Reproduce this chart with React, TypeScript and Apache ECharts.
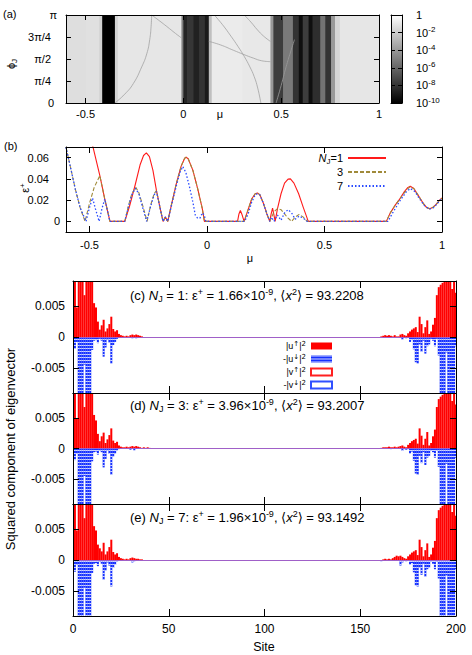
import React, { useEffect, useRef } from 'react';
import * as echarts from 'echarts';

const FONT = '"Liberation Sans", Arial, Helvetica, "DejaVu Sans", sans-serif';

// ---------- Panel (a) ----------
const MU_TICKS = [-0.5, 0, 0.5, 1];
const PHI_TICKS = [0, 0.25, 0.5, 0.75, 1];
const PHI_LABELS = ['0', 'π/4', 'π/2', '3π/4', 'π'];
const CB_TICKS = [-10, -8, -6, -4, -2, 0];
const CB_INNER_TICKS = [-8, -6, -4, -2];
const CB_BAR = [-10];
// band edges in mu and log10 of the plotted quantity inside each band
const BAND_EDGES = [-0.6, -0.5, -0.43, -0.415, -0.35, -0.335, -0.01, 0.0, 0.02, 0.05, 0.08, 0.11, 0.13, 0.145, 0.3, 0.445, 0.46, 0.51, 0.56, 0.59, 0.61, 0.64, 0.66, 0.7, 0.725, 0.755, 0.775, 0.8, 1.0];
const BAND_LOG10 = [-1.3, -1.2, -1.8, -10, -1.7, -1.0, -5, -8.6, -7.9, -8.7, -8.0, -9.0, -2.5, -0.8, -0.9, -4, -7.6, -5.2, -8.0, -9.4, -7.6, -9.4, -8.2, -5.5, -8.0, -4.0, -1.6, -1.0];
// thin curves in panel (a): [mu, phi/pi]
const CURVE_A = [[-0.35, 0.0], [-0.3, 0.1], [-0.256, 0.22], [-0.213, 0.41], [-0.187, 0.56], [-0.172, 0.72], [-0.165, 0.87], [-0.162, 1.0]];
const CURVE_B1 = [[-0.162, 1.0], [-0.12, 0.93], [-0.085, 0.87], [-0.04, 0.79], [-0.01, 0.74]];
const CURVE_B2 = [[0.13, 0.7], [0.19, 0.66], [0.255, 0.6], [0.31, 0.55], [0.358, 0.51], [0.4, 0.48], [0.445, 0.47]];
const CURVE_C = [[0.158, 1.0], [0.2, 0.89], [0.243, 0.76], [0.28, 0.64], [0.311, 0.53], [0.34, 0.41], [0.362, 0.3], [0.38, 0.17], [0.396, 0.0]];
const CURVE_D = [[0.311, 1.0], [0.345, 0.92], [0.379, 0.83], [0.41, 0.76], [0.445, 0.7]];
const CURVE_E = [[0.474, 0.0], [0.5, 0.2], [0.525, 0.41], [0.548, 0.58], [0.568, 0.72]];

// ---------- Panel (b) ----------
const EPS_TICKS = [0, 0.02, 0.04, 0.06];
const MU_N1 = [-0.5, -0.484, -0.456, -0.435, -0.413, -0.35, -0.33, -0.306, -0.285, -0.27, -0.258, -0.245, -0.23, -0.215, -0.2, -0.187, -0.177, -0.167, -0.15, -0.13, -0.11, -0.095, -0.089, -0.08, -0.06, -0.04, -0.02, -0.011, 0.13, 0.136, 0.142, 0.148, 0.158, 0.175, 0.19, 0.205, 0.215, 0.225, 0.24, 0.255, 0.267, 0.273, 0.279, 0.284, 0.29, 0.3, 0.315, 0.33, 0.345, 0.355, 0.37, 0.39, 0.41, 0.431, 0.763, 0.78, 0.8, 0.82, 0.84, 0.855, 0.865, 0.88, 0.9, 0.92, 0.935, 0.947, 0.96, 0.975, 0.99, 1.0];
const EPS_N1 = [0.082, 0.069, 0.043, 0.021, 0, 0, 0.014, 0.034, 0.053, 0.062, 0.0644, 0.061, 0.048, 0.029, 0.013, 0, 0.004, 0, 0.017, 0.036, 0.052, 0.0595, 0.0603, 0.059, 0.048, 0.031, 0.012, 0, 0, 0.007, 0.0103, 0.007, 0, 0.011, 0.021, 0.026, 0.0268, 0.025, 0.017, 0.007, 0, 0.007, 0.0125, 0.007, 0, 0.012, 0.026, 0.036, 0.0398, 0.04, 0.036, 0.026, 0.013, 0, 0, 0.008, 0.015, 0.021, 0.028, 0.032, 0.0331, 0.031, 0.024, 0.017, 0.013, 0.0119, 0.013, 0.016, 0.02, 0.022];
const MU_N3 = [-0.6, -0.58, -0.56, -0.54, -0.519, -0.5, -0.48, -0.456, -0.435, -0.413, -0.35, -0.335, -0.32, -0.303, -0.29, -0.275, -0.255, -0.24, -0.225, -0.215, -0.2, -0.187, -0.177, -0.167, -0.15, -0.13, -0.11, -0.095, -0.089, -0.08, -0.06, -0.04, -0.02, -0.011, 0.158, 0.175, 0.19, 0.205, 0.215, 0.225, 0.24, 0.255, 0.267, 0.285, 0.3, 0.315, 0.33, 0.345, 0.36, 0.375, 0.392, 0.41, 0.427, 0.763, 0.78, 0.8, 0.82, 0.84, 0.855, 0.865, 0.88, 0.9, 0.92, 0.935, 0.947, 0.96, 0.975, 0.99, 1.0];
const EPS_N3 = [0.0697, 0.05, 0.03, 0.013, 0, 0.017, 0.032, 0.043, 0.021, 0, 0, 0.014, 0.026, 0.0322, 0.027, 0.016, 0, 0.015, 0.026, 0.029, 0.013, 0, 0.004, 0, 0.017, 0.036, 0.052, 0.0595, 0.0603, 0.059, 0.048, 0.031, 0.012, 0, 0, 0.011, 0.021, 0.026, 0.0268, 0.025, 0.017, 0.007, 0, 0.009, 0.012, 0.011, 0.007, 0.003, 0, 0.004, 0.0066, 0.004, 0, 0, 0.008, 0.015, 0.021, 0.027, 0.031, 0.0325, 0.031, 0.024, 0.017, 0.013, 0.012, 0.013, 0.016, 0.02, 0.0215];
const MU_N7 = [-0.6, -0.58, -0.56, -0.54, -0.515, -0.5, -0.487, -0.475, -0.459, -0.447, -0.435, -0.413, -0.35, -0.335, -0.32, -0.305, -0.29, -0.275, -0.257, -0.24, -0.225, -0.215, -0.2, -0.187, -0.177, -0.167, -0.15, -0.13, -0.115, -0.103, -0.09, -0.075, -0.06, -0.05, -0.04, -0.03, -0.02, -0.012, -0.005, 0.16, 0.175, 0.19, 0.205, 0.215, 0.225, 0.24, 0.255, 0.267, 0.275, 0.285, 0.3, 0.315, 0.33, 0.345, 0.36, 0.375, 0.392, 0.41, 0.427, 0.77, 0.79, 0.82, 0.845, 0.865, 0.885, 0.905, 0.925, 0.945, 0.965, 0.985, 1.0];
const EPS_N7 = [0.0697, 0.05, 0.03, 0.013, 0, 0.013, 0.022, 0.012, 0, 0.012, 0.021, 0, 0, 0.013, 0.025, 0.031, 0.026, 0.014, 0, 0.014, 0.025, 0.028, 0.013, 0, 0.004, 0, 0.016, 0.034, 0.046, 0.0516, 0.046, 0.033, 0.018, 0.006, 0.003, 0.003, 0.008, 0.006, 0, 0, 0.007, 0.018, 0.025, 0.026, 0.025, 0.017, 0.007, 0, 0.004, 0, 0.006, 0.001, 0.008, 0.011, 0.008, 0.002, 0.005, 0.003, 0, 0, 0.008, 0.019, 0.027, 0.031, 0.028, 0.021, 0.015, 0.0115, 0.013, 0.018, 0.022];

// ---------- Panels (c)-(e) ----------
const SITE_TICKS = [0, 50, 100, 150, 200];
const COMP_TICKS = [-0.005, 0, 0.005];
const SITES = Array.from({ length: 200 }, (_, i) => i + 1);
const MIDDLE = new Array(120).fill(0); // sites 41..160 are ~0 in the figure

const UP_C_L = [0.012, 0.0048, 0.0095, 0.012, 0.011, 0.0068, 0.012, 0.014, 0.012, 0.012, 0.0055, 0.0048, 0.0025, 0.0012, 0.0019, 0.0028, 0.0009, 0.0014, 0.0021, 0.0033, 0.0013, 0.0009, 0.0011, 0.0005, 0.0003, 0.0002, 0.0001, 0.0002, 0.0001, 0.0003, 0.0004, 0.0003, 0.0004, 0.0003, 0.0002, 0.0001, 0, 0, 0, 0];
const DN_C_L = [-0.0019, -0.0008, -0.012, -0.012, -0.012, -0.0045, -0.012, -0.012, -0.012, -0.0021, -0.0006, -0.0005, -0.001, -0.0003, -0.0006, -0.0032, -0.0017, -0.0004, -0.0009, -0.0043, -0.0013, -0.0008, -0.0003, -0.0001, 0, 0, 0, 0, 0, 0, -0.0002, 0, -0.0002, 0, 0, 0, 0, 0, 0, 0];
const UP_C_R = [0.0001, 0.0002, 0.0003, 0.0002, 0.0003, 0.0002, 0.0001, 0.0003, 0.0001, 0.0001, 0.0004, 0.0005, 0.0003, 0.0002, 0.0006, 0.0009, 0.0012, 0.0014, 0.0016, 0.0008, 0.0033, 0.0021, 0.0006, 0.0016, 0.0027, 0.0005, 0.0009, 0.002, 0.0031, 0.0068, 0.0081, 0.0085, 0.0088, 0.012, 0.012, 0.012, 0.012, 0.0078, 0.012, 0.0072];
const DN_C_R = [0, 0, 0, 0, 0, -0.0001, 0, 0, 0, 0, 0, -0.0004, -0.0001, -0.0002, -0.0001, -0.0008, -0.0005, -0.002, -0.0041, -0.0043, -0.0012, -0.0024, -0.0006, -0.0027, -0.0015, -0.0012, -0.0003, -0.0006, -0.0015, -0.0003, -0.003, -0.012, -0.012, -0.012, -0.0025, -0.012, -0.012, -0.012, -0.012, -0.0015];

const UP_D_L = [0.012, 0.005, 0.0095, 0.012, 0.011, 0.0068, 0.012, 0.014, 0.012, 0.012, 0.0055, 0.0046, 0.0024, 0.0012, 0.002, 0.0026, 0.0009, 0.0015, 0.0022, 0.0033, 0.0013, 0.0009, 0.0011, 0.0005, 0.0003, 0.0002, 0.0002, 0.0003, 0.0002, 0.0003, 0.0004, 0.0003, 0.0004, 0.0003, 0.0002, 0.0001, 0.0002, 0.0001, 0.0002, 0.0001];
const DN_D_L = [-0.0019, -0.0008, -0.012, -0.012, -0.012, -0.0045, -0.012, -0.012, -0.012, -0.0021, -0.0006, -0.0005, -0.001, -0.0003, -0.0006, -0.0031, -0.0017, -0.0004, -0.0009, -0.0043, -0.0013, -0.0008, -0.0003, -0.0001, 0, 0, 0, 0, 0, -0.0002, 0, -0.0003, 0, 0, 0, 0, 0, 0, 0, 0];
const UP_D_R = [0.0001, 0.0002, 0.0002, 0.0002, 0.0003, 0.0002, 0.0002, 0.0003, 0.0002, 0.0003, 0.0004, 0.0005, 0.0003, 0.0002, 0.0006, 0.0009, 0.0012, 0.0014, 0.0016, 0.0008, 0.0033, 0.0021, 0.0006, 0.0016, 0.0027, 0.0005, 0.0009, 0.002, 0.0031, 0.0068, 0.0081, 0.0085, 0.0088, 0.012, 0.012, 0.012, 0.012, 0.0078, 0.012, 0.0072];
const DN_D_R = [0, 0, 0, 0, 0, -0.0001, 0, 0, 0, 0, 0, -0.0004, -0.0001, -0.0002, -0.0001, -0.0008, -0.0005, -0.002, -0.0041, -0.0043, -0.0012, -0.0024, -0.0006, -0.0027, -0.0015, -0.0012, -0.0003, -0.0006, -0.0015, -0.0003, -0.003, -0.012, -0.012, -0.012, -0.0025, -0.012, -0.012, -0.012, -0.012, -0.0015];

const UP_E_L = [0.012, 0.0048, 0.0095, 0.012, 0.011, 0.0068, 0.012, 0.014, 0.012, 0.012, 0.0055, 0.0048, 0.0025, 0.0019, 0.0014, 0.0028, 0.0009, 0.0014, 0.0021, 0.0033, 0.0013, 0.0009, 0.0011, 0.0005, 0.0003, 0.0002, 0.0001, 0.0002, 0.0001, 0.0003, 0.0004, 0.0003, 0.0002, 0.0002, 0.0001, 0.0001, 0, 0, 0, 0];
const DN_E_L = [-0.0019, -0.0008, -0.012, -0.012, -0.012, -0.0045, -0.012, -0.012, -0.012, -0.0021, -0.0006, -0.0005, -0.001, -0.0003, -0.0006, -0.0032, -0.0017, -0.0004, -0.0009, -0.0043, -0.0013, -0.0008, -0.0003, -0.0001, 0, 0, 0, 0, 0, 0, -0.0004, -0.0002, -0.0001, 0, 0, 0, 0, 0, 0, 0];
const UP_E_R = [0, 0.0001, 0.0002, 0.0001, 0.0002, 0.0001, 0.0003, 0.0005, 0.0007, 0.0006, 0.0007, 0.0005, 0.0003, 0.0002, 0.0006, 0.0009, 0.0012, 0.0014, 0.0016, 0.0008, 0.0033, 0.0021, 0.0006, 0.0016, 0.0027, 0.0005, 0.0009, 0.002, 0.0031, 0.0068, 0.0081, 0.0085, 0.0088, 0.012, 0.012, 0.012, 0.012, 0.0078, 0.012, 0.0072];
const DN_E_R = [-0.0002, 0, 0, 0, 0, 0, 0, 0, 0, 0, -0.0009, -0.0004, -0.0001, -0.0002, -0.0001, -0.0008, -0.0005, -0.002, -0.0041, -0.0043, -0.0012, -0.0024, -0.0006, -0.0027, -0.0015, -0.0012, -0.0003, -0.0006, -0.0015, -0.0003, -0.003, -0.012, -0.012, -0.012, -0.0025, -0.012, -0.012, -0.012, -0.012, -0.0015];

const PANEL_TAGS = ['(c)', '(d)', '(e)'];
const PANEL_NJ = ['1', '3', '7'];
const PANEL_EPS = ['1.66', '3.96', '1.96'];
const PANEL_X2 = ['93.2208', '93.2007', '93.1492'];

function buildOption() {
  const BLACK = '#000';
  const off = { show: false };
  const axLine = { show: true, onZero: false, lineStyle: { color: BLACK, width: 1 } };
  const tick = (vals: number[], len: number) => ({ show: true, inside: true, length: len, customValues: vals, lineStyle: { color: BLACK, width: 1 } });
  const valAxis = (gi: number, min: number, max: number, pos: string, ticks: number[], len: number, label?: any) => ({
    type: 'value', gridIndex: gi, min, max, position: pos,
    axisLine: axLine, axisTick: tick(ticks, len), axisLabel: label || off, splitLine: off, z: 10,
  });
  const catAxis = (gi: number, pos: string) => ({
    type: 'category', gridIndex: gi, data: ['cb'], position: pos,
    axisLine: axLine, axisTick: off, axisLabel: off, splitLine: off, z: 10,
  });
  const lbl = (vals: number[], size: number, margin: number, extra?: any) => ({
    show: true, customValues: vals, fontSize: size, fontFamily: FONT, color: BLACK, margin, ...(extra || {}),
  });

  const grid = [
    { left: 66, top: 15, width: 313, height: 88 },
    { left: 391, top: 15, width: 11, height: 88 },
    { left: 66, top: 147, width: 376, height: 85 },
    { left: 73, top: 281, width: 383, height: 112 },
    { left: 73, top: 393, width: 383, height: 111 },
    { left: 73, top: 504, width: 383, height: 112 },
  ].map((g) => ({ ...g, outerBoundsMode: 'none', containLabel: false }));

  const xAxis = [
    valAxis(0, -0.6, 1, 'bottom', MU_TICKS, 5, lbl(MU_TICKS, 11, 5, { formatter: (v: number) => String(v) })),
    valAxis(0, -0.6, 1, 'top', MU_TICKS, 5),
    catAxis(1, 'bottom'),
    catAxis(1, 'top'),
    valAxis(2, -0.6, 1, 'bottom', MU_TICKS, 6, lbl(MU_TICKS, 11, 7, { formatter: (v: number) => String(v) })),
    valAxis(2, -0.6, 1, 'top', MU_TICKS, 6),
    valAxis(3, 0, 200, 'bottom', SITE_TICKS, 7),
    valAxis(3, 0, 200, 'top', SITE_TICKS, 7),
    valAxis(4, 0, 200, 'bottom', SITE_TICKS, 7),
    valAxis(4, 0, 200, 'top', SITE_TICKS, 7),
    valAxis(5, 0, 200, 'bottom', SITE_TICKS, 7, lbl(SITE_TICKS, 12, 7, { formatter: (v: number) => String(v) })),
    valAxis(5, 0, 200, 'top', SITE_TICKS, 7),
  ];

  const phiLabel = lbl(PHI_TICKS, 11, 9, {
    formatter: (v: number) => {
      const t = PHI_LABELS[PHI_TICKS.indexOf(v)];
      const k = t === 'π' ? 'p0' : t === '0' ? 'p3' : 'p6';
      return `{${k}|${t}}`;
    },
    rich: { p0: { padding: [0, 0, 0, 0] }, p3: { padding: [0, 3, 0, 0] }, p6: { padding: [0, 6, 0, 0] } },
  });
  const cbLabel = lbl(CB_TICKS, 11, 14, {
    formatter: (v: number) => (v === 0 ? '{n|1}' : `{n|10}{s|${v}}`),
    rich: { n: { fontSize: 11, lineHeight: 14 }, s: { fontSize: 8, lineHeight: 8, verticalAlign: 'top' } },
  });
  const epsLabel = lbl(EPS_TICKS, 11, 6, {
    formatter: (v: number) => (v === 0 ? '{z|0}' : `{w|${v}}`),
    rich: { z: { padding: [0, 0, 0, 0] }, w: { padding: [0, 11, 0, 0] } },
  });
  const compLabel = lbl(COMP_TICKS, 12, 8, { formatter: (v: number) => String(v) });

  const yAxis = [
    valAxis(0, 0, 1, 'left', PHI_TICKS, 5, phiLabel),
    valAxis(0, 0, 1, 'right', PHI_TICKS, 5),
    valAxis(1, -10, 0, 'left', CB_INNER_TICKS, 4),
    valAxis(1, -10, 0, 'right', CB_INNER_TICKS, 4, cbLabel),
    valAxis(2, -0.01, 0.07, 'left', EPS_TICKS, 5, epsLabel),
    valAxis(2, -0.01, 0.07, 'right', EPS_TICKS, 5),
    valAxis(3, -0.0091, 0.0091, 'left', COMP_TICKS, 6, compLabel),
    valAxis(3, -0.0091, 0.0091, 'right', COMP_TICKS, 6),
    valAxis(4, -0.0091, 0.0091, 'left', COMP_TICKS, 6, compLabel),
    valAxis(4, -0.0091, 0.0091, 'right', COMP_TICKS, 6),
    valAxis(5, -0.0091, 0.0091, 'left', COMP_TICKS, 6, compLabel),
    valAxis(5, -0.0091, 0.0091, 'right', COMP_TICKS, 6),
  ];

  const bandData = BAND_LOG10.map((v, i) => [BAND_EDGES[i], BAND_EDGES[i + 1], v]);
  const series: any[] = [
    {
      type: 'custom', xAxisIndex: 0, yAxisIndex: 0, clip: true, silent: true,
      data: bandData, encode: { x: [0, 1] },
      renderItem: (params: any, api: any) => {
        const p0 = api.coord([api.value(0), 1]);
        const p1 = api.coord([api.value(1), 0]);
        const g = Math.max(0, Math.min(255, Math.round((255 * (api.value(2) + 10)) / 10)));
        return {
          type: 'rect',
          shape: { x: p0[0], y: p0[1], width: p1[0] - p0[0] + 0.6, height: p1[1] - p0[1] },
          style: { fill: `rgb(${g},${g},${g})` },
        };
      },
    },
  ];
  [CURVE_A, CURVE_B1, CURVE_B2, CURVE_C, CURVE_D].forEach((c) =>
    series.push({ type: 'line', xAxisIndex: 0, yAxisIndex: 0, data: c, smooth: true, symbol: 'none', silent: true, lineStyle: { color: '#a2a2a2', width: 0.8 } })
  );
  series.push({ type: 'line', xAxisIndex: 0, yAxisIndex: 0, data: CURVE_E, smooth: true, symbol: 'none', silent: true, lineStyle: { color: '#9a9a9a', width: 0.8 } });

  series.push({
    type: 'bar', xAxisIndex: 2, yAxisIndex: 2, data: CB_BAR, barWidth: '100%', silent: true,
    itemStyle: { color: { type: 'linear', x: 0, y: 0, x2: 0, y2: 1, colorStops: [{ offset: 0, color: '#ffffff' }, { offset: 1, color: '#000000' }] } },
  });

  const lineSeries = (name: string, mu: number[], eps: number[], color: string, type: any, width: number) => ({
    name, type: 'line', xAxisIndex: 4, yAxisIndex: 4, clip: true, symbol: 'none', showSymbol: false,
    data: mu.map((m, i) => [m, eps[i]]),
    lineStyle: { color, type, width },
    itemStyle: { color },
  });
  series.push(lineSeries('nj1', MU_N1, EPS_N1, '#ff1a1a', 'solid', 1.1));
  series.push(lineSeries('nj3', MU_N3, EPS_N3, '#a08a3a', [4, 2], 1.1));
  series.push(lineSeries('nj7', MU_N7, EPS_N7, '#2a4bff', [1.5, 2], 1.3));

  const panels = [
    { ax: 6, up: [...UP_C_L, ...MIDDLE, ...UP_C_R], dn: [...DN_C_L, ...MIDDLE, ...DN_C_R] },
    { ax: 8, up: [...UP_D_L, ...MIDDLE, ...UP_D_R], dn: [...DN_D_L, ...MIDDLE, ...DN_D_R] },
    { ax: 10, up: [...UP_E_L, ...MIDDLE, ...UP_E_R], dn: [...DN_E_L, ...MIDDLE, ...DN_E_R] },
  ];
  panels.forEach((p) => {
    const stack = 'st' + p.ax;
    series.push({
      name: 'uUp', type: 'bar', xAxisIndex: p.ax, yAxisIndex: p.ax, stack, barWidth: 2, clip: true,
      data: SITES.map((s, i) => [s, p.up[i]]),
      itemStyle: { color: '#ff0000' },
      markLine: {
        silent: true, symbol: ['none', 'none'], label: { show: false },
        lineStyle: { color: '#a060c8', width: 1, type: 'solid' },
        data: [{ yAxis: 0 }],
      },
    });
    series.push({
      name: 'uDn', type: 'bar', xAxisIndex: p.ax, yAxisIndex: p.ax, stack, barWidth: 2, clip: true,
      data: SITES.map((s, i) => [s, p.dn[i]]),
      itemStyle: {
        color: '#1530ff',
        decal: { symbol: 'rect', symbolSize: 1, dashArrayX: [1, 0], dashArrayY: [1, 2], color: 'rgba(255,255,255,0.8)' },
      },
    });
    series.push({
      name: 'vUp', type: 'bar', xAxisIndex: p.ax, yAxisIndex: p.ax, stack, barWidth: 2, data: [],
      itemStyle: { color: '#ffffff', borderColor: '#ff2020', borderWidth: 1 },
    });
    series.push({
      name: 'vDn', type: 'bar', xAxisIndex: p.ax, yAxisIndex: p.ax, stack, barWidth: 2, data: [],
      itemStyle: { color: '#ffffff', borderColor: '#3050ff', borderWidth: 1, borderType: 'dotted' },
    });
  });

  const legendB: any = {
    data: ['nj1', 'nj3', 'nj7'], orient: 'vertical', align: 'right', right: 85, top: 151,
    itemWidth: 38, itemHeight: 10, itemGap: 0, padding: 0, selectedMode: false,
    itemStyle: { opacity: 0, borderWidth: 0 },
    formatter: (n: string) => (n === 'nj1' ? '{i|N}{s|J}=1' : n === 'nj3' ? '3' : '7'),
    textStyle: {
      fontSize: 11, fontFamily: FONT, color: BLACK, lineHeight: 14,
      rich: { i: { fontStyle: 'italic', fontSize: 11, lineHeight: 14 }, s: { fontSize: 8, lineHeight: 8, verticalAlign: 'bottom' } },
    },
  };
  const legendC: any = {
    data: ['uUp', 'uDn', 'vUp', 'vDn'], orient: 'vertical', align: 'right', right: 139, top: 340,
    itemWidth: 21, itemHeight: 7, itemGap: 1, padding: 0, icon: 'rect', selectedMode: false,
    formatter: (n: string) =>
      n === 'uUp' ? '|u{s|↑}|{s|2}' : n === 'uDn' ? '-|u{s|↓}|{s|2}' : n === 'vUp' ? '|v{s|↑}|{s|2}' : '-|v{s|↓}|{s|2}',
    textStyle: {
      fontSize: 9, fontFamily: FONT, color: BLACK, lineHeight: 12,
      rich: { s: { fontSize: 7, lineHeight: 7, verticalAlign: 'top', fontFamily: '"DejaVu Sans", sans-serif' } },
    },
  };

  const titleTops = [287, 397, 509];
  const title = PANEL_TAGS.map((tag, i) => ({
    left: 130, top: titleTops[i], padding: 0,
    text: `${tag} {i|N}{sub|J} = ${PANEL_NJ[i]}: ε{sup|+} = ${PANEL_EPS[i]}×10{sup|-9}, ⟨{i|x}{sup|2}⟩ = ${PANEL_X2[i]}`,
    textStyle: {
      fontSize: 13, fontWeight: 'normal', fontFamily: FONT, color: BLACK, lineHeight: 16,
      rich: {
        i: { fontStyle: 'italic', fontSize: 13, lineHeight: 16 },
        sub: { fontSize: 9, lineHeight: 8, verticalAlign: 'bottom' },
        sup: { fontSize: 9, lineHeight: 8, verticalAlign: 'top' },
      },
    },
  }));

  const txt = (x: number, y: number, text: string, size: number, opts?: any) => ({
    type: 'text', x, y, silent: true, rotation: (opts && opts.rotation) || 0, z: 100,
    style: {
      text, fontSize: size, fontFamily: FONT, fill: BLACK,
      align: (opts && opts.align) || 'center', verticalAlign: 'middle',
      textAlign: (opts && opts.align) || 'center', textVerticalAlign: 'middle',
      rich: opts && opts.rich,
    },
  });
  const graphic = {
    elements: [
      txt(3, 14, '(a)', 11, { align: 'left' }),
      txt(4, 146, '(b)', 11, { align: 'left' }),
      txt(220, 114, 'μ', 11),
      txt(250, 258, 'μ', 11),
      txt(264, 647, 'Site', 12.5),
      txt(11, 64, '{m|ϕ}{s|J}', 11, {
        rotation: Math.PI / 2,
        rich: { m: { fontSize: 11, lineHeight: 14 }, s: { fontSize: 8, lineHeight: 8, verticalAlign: 'bottom' } },
      }),
      txt(25, 188, '{m|ε}{s|+}', 11, {
        rotation: Math.PI / 2,
        rich: { m: { fontSize: 11, lineHeight: 14 }, s: { fontSize: 8, lineHeight: 8, verticalAlign: 'top' } },
      }),
      txt(10, 449, 'Squared component of eigenvector', 13, { rotation: Math.PI / 2 }),
    ],
  };

  return {
    animation: false,
    backgroundColor: '#ffffff',
    textStyle: { fontFamily: FONT },
    grid, xAxis, yAxis, series,
    legend: [legendB, legendC],
    title,
    graphic,
  };
}

export default function App() {
  const ref = useRef<HTMLDivElement>(null);
  useEffect(() => {
    if (!ref.current) return;
    const chart = echarts.init(ref.current, null, { renderer: 'svg' });
    chart.setOption(buildOption() as any);
    return () => chart.dispose();
  }, []);
  return (
    <div
      ref={ref}
      style={{ position: 'absolute', left: 0, top: 0, width: 472, height: 655, background: '#fff' }}
    />
  );
}
